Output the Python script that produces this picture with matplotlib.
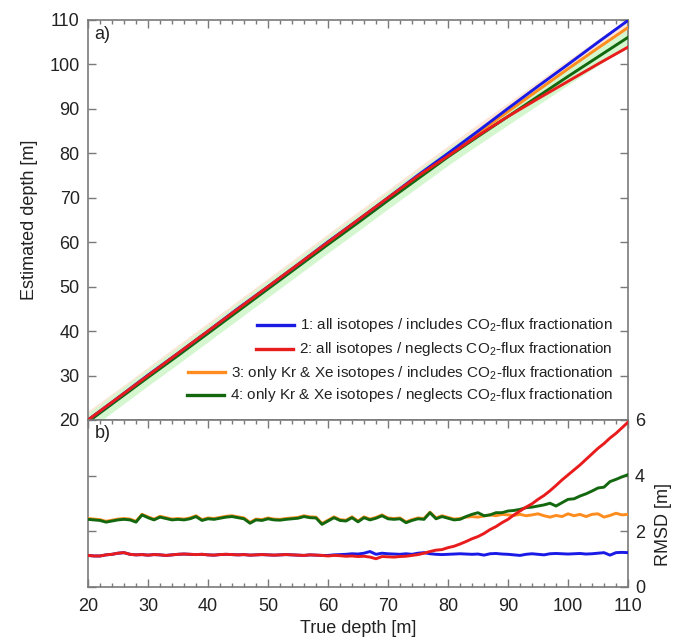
import numpy as np
import matplotlib
matplotlib.use("Agg")
import matplotlib.pyplot as plt
from matplotlib.lines import Line2D
from matplotlib.ticker import MultipleLocator

plt.rcParams['font.family'] = ['Liberation Sans', 'DejaVu Sans']
plt.rcParams['mathtext.default'] = 'regular'

# ---------------- data ----------------
true_depth_coarse = [20, 25, 30, 35, 40, 45, 50, 55, 60, 65, 70, 75, 80, 85, 90, 95, 100, 105, 110]
est_blue = [20.0, 25.0, 30.1, 35.0, 40.0, 45.1, 50.0, 55.0, 60.1, 65.0, 70.0, 75.1, 80.0, 85.0, 90.1, 95.1, 100.0, 105.0, 109.9]
est_red = [20.0, 25.0, 30.0, 35.0, 40.0, 45.0, 50.0, 55.0, 60.0, 65.0, 70.0, 74.9, 79.4, 84.0, 88.3, 92.3, 96.2, 100.1, 103.9]
est_orange = [20.0, 24.9, 29.9, 34.9, 39.9, 44.9, 49.9, 54.9, 59.9, 64.9, 69.8, 74.8, 79.7, 84.6, 89.4, 94.2, 99.0, 103.7, 108.3]
est_green = [19.6, 24.6, 29.6, 34.5, 39.5, 44.5, 49.5, 54.5, 59.5, 64.4, 69.4, 74.3, 79.2, 83.8, 88.3, 92.8, 97.3, 101.7, 106.1]
band_orange = 2.0   # half-width of the shaded band (m)
band_green = 1.9

true_depth_fine = list(range(20, 111))
rmsd_blue = [1.12, 1.10, 1.10, 1.14, 1.16, 1.20, 1.22, 1.16, 1.14, 1.15,
             1.13, 1.15, 1.14, 1.12, 1.14, 1.16, 1.17, 1.16, 1.15, 1.16,
             1.14, 1.13, 1.15, 1.16, 1.15, 1.14, 1.15, 1.13, 1.14, 1.15,
             1.14, 1.13, 1.14, 1.15, 1.14, 1.13, 1.12, 1.14, 1.13, 1.12,
             1.12, 1.14, 1.15, 1.16, 1.18, 1.17, 1.20, 1.26, 1.16, 1.20,
             1.18, 1.17, 1.16, 1.18, 1.16, 1.20, 1.22, 1.18, 1.16, 1.15,
             1.16, 1.17, 1.18, 1.17, 1.16, 1.17, 1.13, 1.18, 1.19, 1.17,
             1.16, 1.14, 1.12, 1.16, 1.18, 1.16, 1.14, 1.18, 1.19, 1.18,
             1.17, 1.18, 1.19, 1.17, 1.18, 1.20, 1.22, 1.13, 1.22, 1.23, 1.22]
rmsd_red = [1.12, 1.10, 1.10, 1.14, 1.16, 1.20, 1.22, 1.16, 1.14, 1.15,
            1.13, 1.15, 1.14, 1.12, 1.14, 1.16, 1.17, 1.16, 1.15, 1.16,
            1.14, 1.13, 1.15, 1.16, 1.15, 1.14, 1.15, 1.13, 1.14, 1.15,
            1.14, 1.13, 1.14, 1.15, 1.14, 1.13, 1.12, 1.14, 1.13, 1.12,
            1.10, 1.12, 1.11, 1.09, 1.10, 1.08, 1.09, 1.06, 1.00, 1.08,
            1.07, 1.06, 1.08, 1.09, 1.12, 1.15, 1.20, 1.26, 1.31, 1.33,
            1.40, 1.45, 1.53, 1.62, 1.72, 1.80, 1.91, 2.05, 2.16, 2.30,
            2.42, 2.58, 2.72, 2.86, 2.98, 3.14, 3.28, 3.45, 3.64, 3.84,
            4.02, 4.20, 4.38, 4.58, 4.78, 4.98, 5.15, 5.35, 5.52, 5.72, 5.92]
rmsd_orange = [2.45, 2.43, 2.41, 2.35, 2.39, 2.43, 2.45, 2.43, 2.35, 2.60,
               2.51, 2.43, 2.53, 2.48, 2.43, 2.45, 2.43, 2.47, 2.55, 2.41,
               2.47, 2.45, 2.49, 2.53, 2.55, 2.51, 2.47, 2.31, 2.43, 2.41,
               2.47, 2.43, 2.42, 2.45, 2.47, 2.49, 2.55, 2.51, 2.50, 2.27,
               2.39, 2.51, 2.41, 2.39, 2.51, 2.36, 2.51, 2.43, 2.49, 2.58,
               2.47, 2.45, 2.47, 2.33, 2.41, 2.47, 2.45, 2.68, 2.47, 2.55,
               2.49, 2.43, 2.45, 2.50, 2.52, 2.50, 2.54, 2.58, 2.55, 2.60,
               2.58, 2.56, 2.60, 2.55, 2.58, 2.62, 2.55, 2.50, 2.56, 2.52,
               2.62, 2.55, 2.60, 2.52, 2.60, 2.62, 2.50, 2.56, 2.64, 2.58, 2.60]
rmsd_green = [2.42, 2.40, 2.38, 2.32, 2.36, 2.40, 2.42, 2.40, 2.32, 2.58,
              2.48, 2.40, 2.50, 2.45, 2.40, 2.42, 2.40, 2.44, 2.52, 2.38,
              2.44, 2.42, 2.46, 2.50, 2.52, 2.48, 2.44, 2.28, 2.40, 2.38,
              2.44, 2.40, 2.39, 2.42, 2.44, 2.46, 2.52, 2.48, 2.47, 2.24,
              2.36, 2.48, 2.38, 2.36, 2.48, 2.33, 2.48, 2.40, 2.46, 2.55,
              2.44, 2.42, 2.44, 2.30, 2.38, 2.44, 2.42, 2.66, 2.44, 2.52,
              2.46, 2.40, 2.42, 2.52, 2.60, 2.66, 2.55, 2.58, 2.66, 2.66,
              2.72, 2.74, 2.78, 2.84, 2.86, 2.90, 2.94, 3.00, 2.90, 3.02,
              3.14, 3.16, 3.26, 3.34, 3.44, 3.55, 3.58, 3.78, 3.86, 3.95, 4.03]

labels = [r'1: all isotopes / includes CO$_2$-flux fractionation',
          r'2: all isotopes / neglects CO$_2$-flux fractionation',
          r'3: only Kr & Xe isotopes / includes CO$_2$-flux fractionation',
          r'4: only Kr & Xe isotopes / neglects CO$_2$-flux fractionation']

c_blue = '#1a1ae6'
c_red = '#e81c1c'
c_orange = '#ff8c1f'
c_green = '#13680f'
spine_col = '#7a7a7a'
text_col = '#222222'

# ---------------- figure ----------------
W, H = 679, 644
fig = plt.figure(figsize=(W / 100, H / 100), dpi=100)
L, R = 88 / W, 628 / W
y_top, y_mid, y_bot = 1 - 20 / H, 1 - 420 / H, 1 - 586.5 / H
ax1 = fig.add_axes([L, y_mid, R - L, y_top - y_mid])
ax2 = fig.add_axes([L, y_bot, R - L, y_mid - y_bot])

lw = 2.1
# ---- panel a ----
xc = np.array(true_depth_coarse)
eo = np.array(est_orange)
eg = np.array(est_green)
ax1.fill_between(xc, eo - band_orange, eo + band_orange, color='#fde6d6', lw=0, zorder=1)
ax1.fill_between(xc, eg - band_green, eg + band_green, color='#d4f7cf', lw=0, zorder=1.1)
ax1.plot(xc, est_orange, color=c_orange, lw=lw, zorder=3)
ax1.plot(xc, est_green, color=c_green, lw=lw, zorder=3.1)
ax1.plot(xc, est_blue, color=c_blue, lw=lw, zorder=3.2)
ax1.plot(xc, est_red, color=c_red, lw=lw, zorder=3.3)
ax1.set_xlim(20, 110)
ax1.set_ylim(20, 110)
ax1.yaxis.set_major_locator(MultipleLocator(10))
ax1.xaxis.set_major_locator(MultipleLocator(10))
ax1.xaxis.set_minor_locator(MultipleLocator(2))
ax1.tick_params(axis='x', which='both', direction='in', top=True, bottom=False,
                labelbottom=False, color=spine_col)
ax1.tick_params(axis='x', which='major', length=6, width=1)
ax1.tick_params(axis='x', which='minor', length=3, width=1)
ax1.tick_params(axis='y', which='major', direction='in', left=True, right=True,
                length=6, width=1, color=spine_col, labelsize=13, labelcolor=text_col, pad=6)
ax1.set_ylabel('Estimated depth [m]', fontsize=13, color=text_col, labelpad=8)
ax1.text(0.012, 0.985, 'a)', transform=ax1.transAxes, ha='left', va='top',
         fontsize=13, color=text_col)

# ---- panel b ----
xf = np.array(true_depth_fine)
ax2.plot(xf, rmsd_orange, color=c_orange, lw=lw, zorder=3)
ax2.plot(xf, rmsd_green, color=c_green, lw=lw, zorder=3.1)
ax2.plot(xf, rmsd_blue, color=c_blue, lw=lw, zorder=3.2)
ax2.plot(xf, rmsd_red, color=c_red, lw=lw, zorder=3.3)
ax2.set_xlim(20, 110)
ax2.set_ylim(0, 6)
ax2.set_yticks([0, 2, 4, 6])
ax2.xaxis.set_major_locator(MultipleLocator(10))
ax2.xaxis.set_minor_locator(MultipleLocator(2))
ax2.tick_params(axis='x', which='both', direction='in', top=True, bottom=True,
                color=spine_col, labelsize=13, labelcolor=text_col)
ax2.tick_params(axis='x', which='major', length=6, width=1, pad=8)
ax2.tick_params(axis='x', which='minor', length=3, width=1)
ax2.tick_params(axis='y', which='major', direction='in', left=True, right=True,
                labelleft=False, labelright=True, length=6, width=1,
                color=spine_col, labelsize=13, labelcolor=text_col, pad=5)
fig.text(663 / W, 1 - 525 / H, 'RMSD [m]', rotation=90, ha='center', va='center',
         fontsize=13, color=text_col)
ax2.set_xlabel('True depth [m]', fontsize=13, color=text_col, labelpad=4)
ax2.text(0.012, 0.97, 'b)', transform=ax2.transAxes, ha='left', va='top',
         fontsize=13, color=text_col)

for ax in (ax1, ax2):
    for s in ax.spines.values():
        s.set_color(spine_col)
        s.set_linewidth(1.2)

# ---- legend (right-aligned text, handle just left of text) ----
leg_colors = [c_blue, c_red, c_orange, c_green]
leg_mid_px = [325, 349, 372, 395]
x_right = (613 - 88) / 540
texts = []
for lab, ypx in zip(labels, leg_mid_px):
    yb = (420 - ypx - 4.5) / 400
    t = ax1.text(x_right, yb, lab, transform=ax1.transAxes, ha='right', va='baseline',
                 fontsize=11, color=text_col, zorder=5)
    texts.append((t, ypx))
fig.canvas.draw()
rend = fig.canvas.get_renderer()
inv = ax1.transAxes.inverted()
for (t, ypx), col in zip(texts, leg_colors):
    bb = t.get_window_extent(rend)
    x0 = inv.transform((bb.x0, bb.y0))[0]
    ym = (420 - ypx) / 400
    gap = 6 / 540
    hl = 37 / 540
    ax1.add_line(Line2D([x0 - gap - hl, x0 - gap], [ym, ym], transform=ax1.transAxes,
                        color=col, lw=2.4, zorder=5, clip_on=False))

fig.savefig('out.png', dpi=100)
